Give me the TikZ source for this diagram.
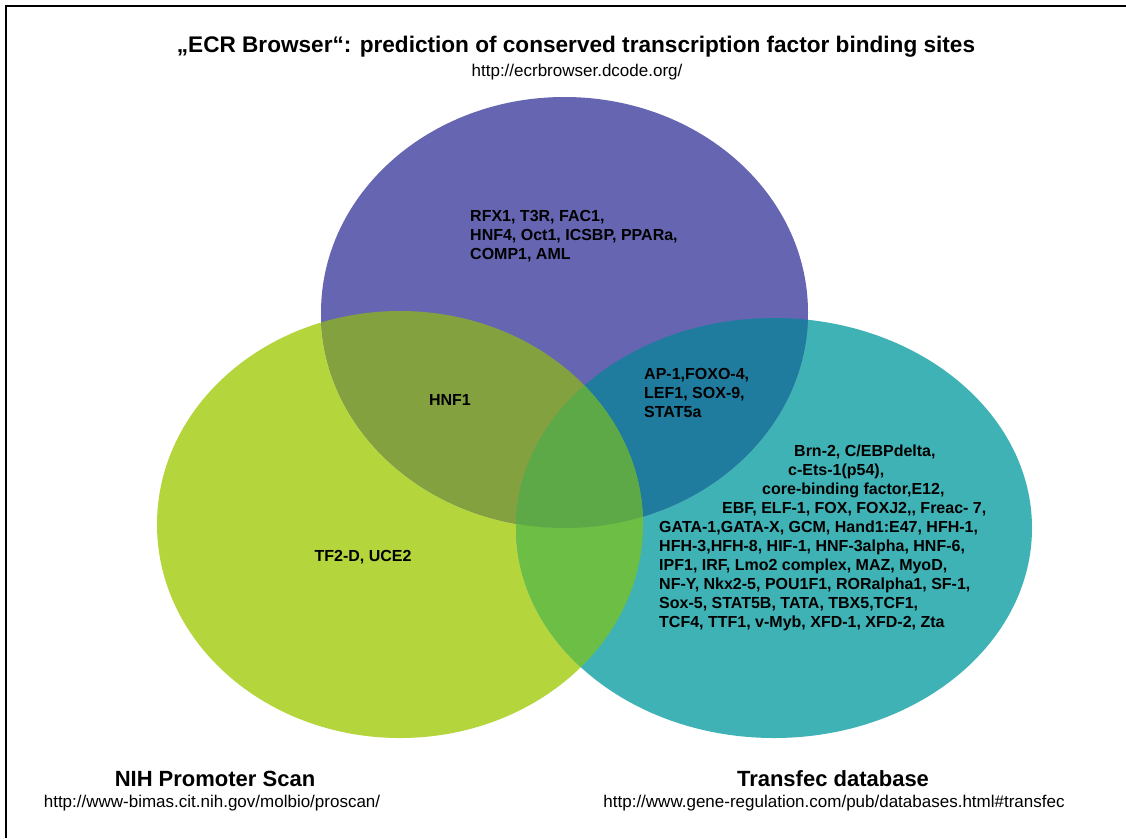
\documentclass[tikz,border=0pt]{standalone}
\usepackage{fontspec}
\setmainfont{Liberation Sans}
\usepackage{tikz}
\usepackage{xcolor}

\definecolor{ecrblue}{HTML}{6665B2}
\definecolor{nihgreen}{HTML}{B4D53C}
\definecolor{tfteal}{HTML}{3FB2B5}
\definecolor{ecrnih}{HTML}{84A13F}
\definecolor{ecrtf}{HTML}{1F7C9E}
\definecolor{nihtf}{HTML}{6CBE45}
\definecolor{allthree}{HTML}{5DA947}

\tikzset{
  factors/.style={font=\bfseries\fontsize{16}{19}\selectfont, align=left, inner sep=0pt},
  dbname/.style={font=\bfseries\fontsize{22}{26}\selectfont, inner sep=0pt},
  dburl/.style={font=\fontsize{17}{20}\selectfont, inner sep=0pt},
}

\begin{document}
\begin{tikzpicture}[x=1pt, y=-1pt]
        \useasboundingbox (0,0) rectangle (1126,838);
        \fill[white] (0,0) rectangle (1126,838);
        \draw[line width=2.5pt] (6,838) -- (6,6) -- (1126,6);

        \coordinate (ecr) at (564.5,312.5);
        \coordinate (nih) at (400,524.5);
        \coordinate (tf)  at (774,528);

        % the three sets
        \fill[nihgreen] (nih) ellipse [x radius=243pt, y radius=213.5pt];
        \fill[tfteal]   (tf)  ellipse [x radius=258pt, y radius=210pt];
        \fill[ecrblue]  (ecr) ellipse [x radius=243.5pt, y radius=215.5pt];

        % overlaps
        \begin{scope}
            \clip (ecr) ellipse [x radius=243.5pt, y radius=215.5pt];
            \fill[ecrnih] (nih) ellipse [x radius=243pt, y radius=213.5pt];
            \fill[ecrtf]  (tf)  ellipse [x radius=258pt, y radius=210pt];
        \end{scope}
        \begin{scope}
            \clip (nih) ellipse [x radius=243pt, y radius=213.5pt];
            \fill[nihtf] (tf) ellipse [x radius=258pt, y radius=210pt];
            \clip (ecr) ellipse [x radius=243.5pt, y radius=215.5pt];
            \fill[allthree] (tf) ellipse [x radius=258pt, y radius=210pt];
        \end{scope}

        % titles
        \node (ecrname) at (576,47) [dbname, font=\bfseries\fontsize{22.6}{26}\selectfont] {„ECR Browser“: prediction of conserved transcription factor binding sites};
        \node (ecrurl)  at (577,72) [dburl] {http://ecrbrowser.dcode.org/};
        \node (nihname) at (215,779) [dbname] {NIH Promoter Scan};
        \node (nihurl)  at (212,803) [dburl] {http://www-bimas.cit.nih.gov/molbio/proscan/};
        \node (tfname)  at (833,779) [dbname] {Transfec database};
        \node (tfurl)   at (834,803) [dburl] {http://www.gene-regulation.com/pub/databases.html\#transfec};

        % factors in each region
        \node (ecronly) at (470,236) [factors, anchor=west] {RFX1, T3R, FAC1,\\HNF4, Oct1, ICSBP, PPARa,\\COMP1, AML};
        \node (ecrnihf) at (450,400) [factors] {HNF1};
        \node (ecrtff)  at (644,393) [factors, anchor=west] {AP-1,FOXO-4,\\LEF1, SOX-9,\\STAT5a};
        \node (nihonly) at (363,557) [factors] {TF2-D, UCE2};
        \node (tf1) at (794,452) [factors, anchor=west] {Brn-2, C/EBPdelta,};
        \node (tf2) at (788,471) [factors, anchor=west] {c-Ets-1(p54),};
        \node (tf3) at (762,490) [factors, anchor=west] {core-binding factor,E12,};
        \node (tf4) at (722,509) [factors, anchor=west] {EBF, ELF-1, FOX, FOXJ2,{}, Freac- 7,};
        \node (tf5) at (659,528) [factors, anchor=north west, yshift=7pt] {GATA-1,GATA-X, GCM, Hand1:E47, HFH-1,\\HFH-3,HFH-8, HIF-1, HNF-3alpha, HNF-6,\\IPF1, IRF, Lmo2 complex, MAZ, MyoD,\\NF-Y, Nkx2-5, POU1F1, RORalpha1, SF-1,\\Sox-5, STAT5B, TATA, TBX5,TCF1,\\TCF4, TTF1, v-Myb, XFD-1, XFD-2, Zta};
    \end{tikzpicture}
\end{document}
